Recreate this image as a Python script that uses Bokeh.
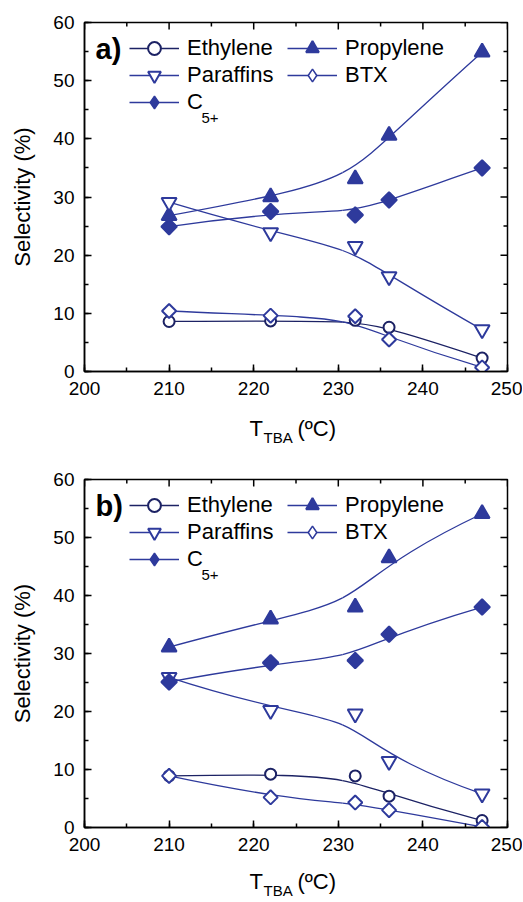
import math
from bokeh.plotting import figure
from bokeh.models import (Range1d, LinearAxis, SingleIntervalTicker, Legend, LegendItem,
                          Label, ColumnDataSource)
from bokeh.layouts import column
from bokeh.embed import file_html
from bokeh.resources import INLINE

# ---------------- data ----------------
temps = [210, 222, 232, 236, 247]

ethylene_a = [8.6, 8.7, 8.8, 7.6, 2.3]
propylene_a = [26.8, 30.0, 33.1, 40.6, 54.9]
paraffins_a = [29.1, 23.9, 21.5, 16.3, 7.2]
btx_a = [10.4, 9.6, 9.5, 5.5, 0.7]
c5_a = [24.9, 27.5, 26.9, 29.5, 35.0]

ethylene_b = [8.9, 9.2, 8.9, 5.4, 1.2]
propylene_b = [31.1, 35.9, 38.0, 46.5, 54.1]
paraffins_b = [25.9, 20.2, 19.6, 11.4, 5.8]
btx_b = [8.9, 5.2, 4.3, 3.0, 0.1]
c5_b = [25.1, 28.4, 28.8, 33.3, 38.0]

x_major = [200, 210, 220, 230, 240, 250]
x_minor = [205, 215, 225, 235, 245]
y_major = [0, 10, 20, 30, 40, 50, 60]
y_minor = [5, 15, 25, 35, 45, 55]
X_MIN, X_MAX = 200, 250
Y_MIN, Y_MAX = 0, 60

FONT = "Liberation Sans"
BLUE = "#2E3A9C"
NAVY = "#1C2264"
W = 522
LEFT = 84
FRAME_W = 423


def bspline_bezier(xs, ys):
    """Clamped cubic B-spline (data as control points) as Bezier segments."""
    p0, p1, p2, p3, p4 = list(zip(xs, ys))
    m12 = ((p1[0] + p2[0]) / 2, (p1[1] + p2[1]) / 2)
    m23 = ((p2[0] + p3[0]) / 2, (p2[1] + p3[1]) / 2)
    M = ((p1[0] + 2 * p2[0] + p3[0]) / 4, (p1[1] + 2 * p2[1] + p3[1]) / 4)
    return dict(
        x0=[p0[0], M[0]], y0=[p0[1], M[1]],
        x1=[M[0], p4[0]], y1=[M[1], p4[1]],
        cx0=[p1[0], m23[0]], cy0=[p1[1], m23[1]],
        cx1=[m12[0], p3[0]], cy1=[m12[1], p3[1]],
    )


def make_panel(tag, series, top_border, frame_h, bottom_border):
    p = figure(frame_width=FRAME_W, frame_height=frame_h,
               min_border_left=LEFT, min_border_right=W - LEFT - FRAME_W,
               min_border_top=top_border, min_border_bottom=bottom_border,
               x_range=Range1d(X_MIN, X_MAX), y_range=Range1d(Y_MIN, Y_MAX),
               output_backend="svg", toolbar_location=None,
               x_axis_location=None, y_axis_location=None)
    p.grid.visible = False
    p.outline_line_color = "black"
    p.outline_line_width = 1.5
    p.background_fill_color = "white"

    def mk_axis(ticker):
        ax = LinearAxis(ticker=ticker)
        ax.major_tick_in = 7
        ax.major_tick_out = 0
        ax.minor_tick_in = 4
        ax.minor_tick_out = 0
        ax.major_tick_line_width = 1.5
        ax.minor_tick_line_width = 1.5
        ax.axis_line_width = 1.5
        ax.axis_line_color = "black"
        ax.major_tick_line_color = "black"
        ax.minor_tick_line_color = "black"
        ax.major_label_text_font = FONT
        ax.major_label_text_font_size = "19px"
        ax.major_label_text_color = "black"
        ax.major_label_standoff = 10
        return ax

    xb = mk_axis(SingleIntervalTicker(interval=10, num_minor_ticks=2))
    yl = mk_axis(SingleIntervalTicker(interval=10, num_minor_ticks=2))
    yl.axis_label = "Selectivity (%)"
    yl.axis_label_text_font = FONT
    yl.axis_label_text_font_size = "22px"
    yl.axis_label_text_font_style = "normal"
    yl.axis_label_text_color = "black"
    yl.axis_label_standoff = 15
    p.add_layout(xb, "below")
    p.add_layout(yl, "left")

    # mirrored inward ticks on top and right (half of each dash is clipped away)
    tk = dict(marker="dash", line_color="black", line_width=1.5)
    p.scatter(x_major, [Y_MAX] * len(x_major), size=14, angle=math.pi / 2, **tk)
    p.scatter(x_minor, [Y_MAX] * len(x_minor), size=8, angle=math.pi / 2, **tk)
    p.scatter([X_MAX] * len(y_major), y_major, size=14, **tk)
    p.scatter([X_MAX] * len(y_minor), y_minor, size=8, **tk)

    eth, pro, par, btx, c5 = series
    # name, values, colour, marker, size, fill, angle, legend marker
    specs = [
        ("Ethylene", eth, NAVY, "circle", 11, "white", 0, None),
        ("Propylene", pro, BLUE, "triangle", 15, BLUE, 0, None),
        ("Paraffins", par, BLUE, "inverted_triangle", 15, "white", 0, None),
        ("BTX", btx, BLUE, "square", 10, "white", math.pi / 4, "diamond"),
        ("C", c5, BLUE, "square", 11, BLUE, math.pi / 4, "diamond"),
    ]
    lines = {}
    proxies = {}
    for name, ys, col, mk, sz, fill, ang, lmk in specs:
        src = ColumnDataSource(bspline_bezier(temps, ys))
        lines[name] = p.bezier(x0="x0", y0="y0", x1="x1", y1="y1", cx0="cx0", cy0="cy0",
                               cx1="cx1", cy1="cy1", source=src, line_color=col, line_width=1.3)
    # legend symbols for the rotated-square series (legend draws markers unrotated);
    # drawn underneath the real markers, which cover them completely
    for name, ys, col, mk, sz, fill, ang, lmk in specs:
        if lmk is not None:
            proxies[name] = p.scatter(temps, ys, marker=lmk, size=11, line_color=col,
                                      line_width=1.5, fill_color=fill)
    items = {}
    for name, ys, col, mk, sz, fill, ang, lmk in specs:
        sr = p.scatter(temps, ys, marker=mk, size=sz, angle=ang, line_color=col,
                       line_width=2, fill_color=fill)
        items[name] = LegendItem(label=name, renderers=[lines[name], proxies.get(name, sr)])

    def mk_legend(name, x, row_center):
        gh = 32
        lg = Legend(items=[items[name]], location=(x, frame_h - row_center - gh / 2))
        lg.label_text_font = FONT
        lg.label_text_font_size = "22px"
        lg.label_text_color = "black"
        lg.glyph_width = 50
        lg.glyph_height = gh
        lg.label_height = gh
        lg.label_standoff = 8
        lg.spacing = 0
        lg.padding = 0
        lg.margin = 0
        lg.border_line_color = None
        lg.background_fill_alpha = 0
        return lg

    p.add_layout(mk_legend("Ethylene", 45, 26))
    p.add_layout(mk_legend("Paraffins", 45, 53))
    p.add_layout(mk_legend("C", 45, 80))
    p.add_layout(mk_legend("Propylene", 203, 26))
    p.add_layout(mk_legend("BTX", 203, 53))

    # subscript of C5+
    p.add_layout(Label(x=117, y=frame_h - 95, x_units="screen", y_units="screen",
                       text="5+", text_font=FONT, text_font_size="15px",
                       text_baseline="alphabetic", text_color="black"))
    # panel tag
    p.add_layout(Label(x=11, y=frame_h - 26, x_units="screen", y_units="screen",
                       text=tag, text_font=FONT, text_font_size="29px",
                       text_font_style="bold", text_baseline="middle", text_color="black"))
    return p


def xtitle(height, base):
    f = figure(width=W, height=height, min_border=0,
               x_range=Range1d(0, 1), y_range=Range1d(0, 1),
               output_backend="svg", toolbar_location=None,
               x_axis_location=None, y_axis_location=None)
    f.grid.visible = False
    f.outline_line_color = None
    common = dict(x_units="screen", y_units="screen", text_font=FONT,
                  text_baseline="alphabetic", text_color="black")
    f.add_layout(Label(x=165, y=base, text="T", text_font_size="22px", **common))
    f.add_layout(Label(x=179, y=base - 9, text="TBA", text_font_size="15px", **common))
    f.add_layout(Label(x=213, y=base, text="(ºC)", text_font_size="22px", **common))
    return f


pa = make_panel("a)", [ethylene_a, propylene_a, paraffins_a, btx_a, c5_a], 22, 349, 26)
ta = xtitle(60, 29)
pb = make_panel("b)", [ethylene_b, propylene_b, paraffins_b, btx_b, c5_b], 22, 348, 26)
tb = xtitle(45, 17)

layout = column(pa, ta, pb, tb, spacing=0)
open("out.html", "w").write(file_html(layout, INLINE))
